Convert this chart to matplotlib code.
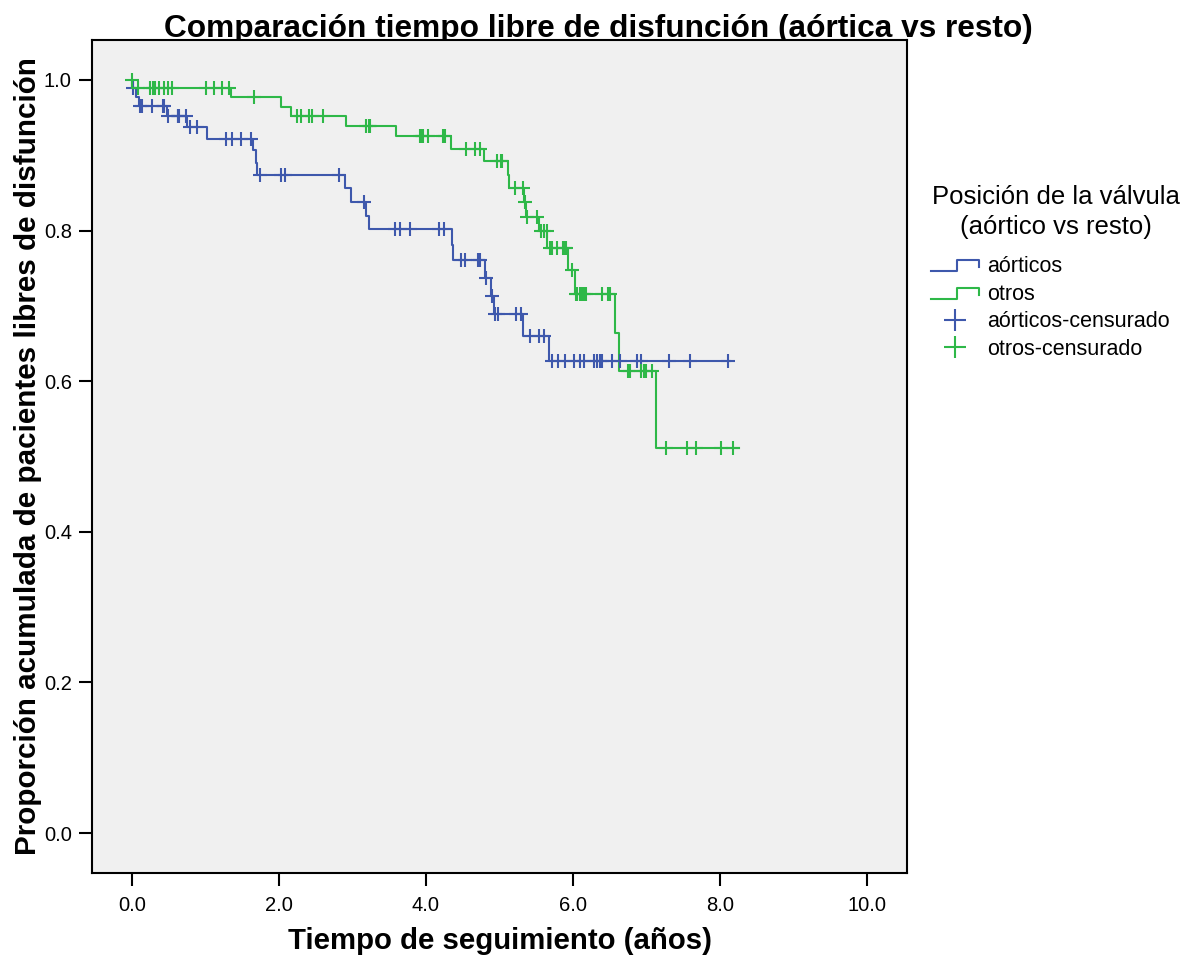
import numpy as np
import matplotlib
matplotlib.use('Agg')
import matplotlib.pyplot as plt
from matplotlib.lines import Line2D
from matplotlib.legend_handler import HandlerBase
from matplotlib.ticker import FormatStrFormatter

plt.rcParams['font.family'] = ['Liberation Sans', 'DejaVu Sans']

# curva de supervivencia: tiempos de evento y proporción tras cada evento
aort_t = [0.0, 0.05, 0.09, 0.47, 0.745, 1.02, 1.65, 1.69, 1.70, 2.90, 2.975, 3.19, 3.23,
          4.36, 4.37, 4.80, 4.88, 4.93, 5.32, 5.67]
aort_s = [0.990, 0.978, 0.966, 0.952, 0.938, 0.922, 0.907, 0.890, 0.874, 0.856, 0.838, 0.820, 0.802,
          0.781, 0.761, 0.737, 0.713, 0.689, 0.660, 0.627]
aort_fin = 8.13
aort_cens = [0.02, 0.11, 0.13, 0.27, 0.42, 0.43, 0.49, 0.62, 0.63, 0.64, 0.73, 0.79, 0.89,
             1.28, 1.36, 1.48, 1.62, 1.74, 2.03, 2.08, 2.82, 3.15, 3.58, 3.65, 3.78, 4.18, 4.24,
             4.47, 4.53, 4.71, 4.73, 4.82, 4.90, 4.94, 4.98, 5.22, 5.29, 5.41, 5.54, 5.61,
             5.72, 5.80, 5.89, 6.01, 6.10, 6.15, 6.28, 6.32, 6.37, 6.40, 6.53, 6.64, 6.87, 6.93,
             7.31, 7.59, 8.11]

otros_t = [0.02, 1.35, 2.03, 2.17, 2.91, 3.59, 4.34, 4.79, 5.12, 5.13, 5.33, 5.36, 5.54, 5.645,
           5.93, 6.03, 6.57, 6.63, 7.13]
otros_s = [0.990, 0.977, 0.964, 0.952, 0.939, 0.925, 0.909, 0.892, 0.874, 0.857, 0.838, 0.818, 0.800,
           0.777, 0.748, 0.716, 0.664, 0.614, 0.5115]
otros_fin = 8.26
otros_cens = [0.0, 0.08, 0.24, 0.29, 0.31, 0.37, 0.43, 0.49, 0.54, 1.01, 1.12, 1.23, 1.32, 1.66,
              2.24, 2.30, 2.41, 2.45, 2.60, 3.19, 3.22, 3.24, 3.92, 3.94, 3.96, 4.03, 4.23, 4.26,
              4.54, 4.66, 4.73, 4.97, 5.02, 5.04, 5.21, 5.32, 5.35, 5.38, 5.51, 5.57, 5.60, 5.64,
              5.69, 5.71, 5.78, 5.87, 5.89, 5.91, 5.98, 6.04, 6.05, 6.09, 6.12, 6.15, 6.18, 6.40,
              6.48, 6.51, 6.75, 6.78, 6.93, 6.97, 6.99, 7.08, 7.27, 7.55, 7.67, 8.01, 8.18]

azul = '#3E58AC'
verde = '#2EB848'


def escalon(t, s, fin):
    x = np.r_[0.0, t, fin]
    y = np.r_[1.0, s, s[-1]]
    return x, y


def valor_en(t, s, tc):
    tt = np.r_[-1.0, t]
    ss = np.r_[1.0, s]
    idx = np.searchsorted(tt, tc, side='right') - 1
    return ss[idx]


class StepHandler(HandlerBase):
    def create_artists(self, legend, orig_handle, xdescent, ydescent, width, height, fontsize, trans):
        x0 = -xdescent
        y0 = -ydescent + height * 0.05
        y1 = -ydescent + height * 0.8
        xs = [x0, x0 + 0.55 * width, x0 + 0.55 * width, x0 + width, x0 + width]
        ys = [y0, y0, y1, y1, y0 + height * 0.25]
        l = Line2D(xs, ys, color=orig_handle.get_color(), lw=1.5)
        l.set_transform(trans)
        return [l]


fig = plt.figure(figsize=(11.96, 9.57), dpi=100)
ax = fig.add_axes([92 / 1196, 1 - 873 / 957, (907 - 92) / 1196, (873 - 40) / 957])
ax.set_facecolor('#F0F0F0')

xa, ya = escalon(aort_t, aort_s, aort_fin)
xo, yo = escalon(otros_t, otros_s, otros_fin)
la, = ax.step(xa, ya, where='post', color=azul, lw=1.5)
lo, = ax.step(xo, yo, where='post', color=verde, lw=1.5)

ca = ax.plot(aort_cens, valor_en(aort_t, aort_s, np.array(aort_cens)), '+', color=azul,
             ms=10, mew=1.5, ls='none')[0]
co = ax.plot(otros_cens, valor_en(otros_t, otros_s, np.array(otros_cens)), '+', color=verde,
             ms=10, mew=1.5, ls='none')[0]

ax.set_xlim(-0.544, 10.544)
ax.set_ylim(-0.0531, 1.0531)
ax.set_xticks(np.arange(0, 10.1, 2))
ax.set_yticks(np.arange(0, 1.01, 0.2))
ax.xaxis.set_major_formatter(FormatStrFormatter('%.1f'))
ax.yaxis.set_major_formatter(FormatStrFormatter('%.1f'))
ax.tick_params(direction='out', length=9.5, width=1.5, labelsize=14.5, pad=5)
ax.tick_params(axis='x', pad=7)
for sp in ax.spines.values():
    sp.set_linewidth(1.5)

ax.set_xlabel('Tiempo de seguimiento (años)', fontsize=21.2, fontweight='bold', labelpad=9)
ax.set_ylabel('Proporción acumulada de pacientes libres de disfunción', fontsize=21.3,
              fontweight='bold', labelpad=1)

fig.text(0.5, 1 - 37 / 957, 'Comparación tiempo libre de disfunción (aórtica vs resto)',
         ha='center', va='baseline', fontsize=22.8, fontweight='bold', zorder=-1)

# título de la leyenda aparte
fig.text(1056 / 1196, 1 - 212 / 957, 'Posición de la válvula\n(aórtico vs resto)',
         ha='center', va='center', multialignment='center', fontsize=18.5, linespacing=1.28)

hs_a = Line2D([], [], color=azul, marker='+', ms=16, mew=1.5, ls='none')
hs_o = Line2D([], [], color=verde, marker='+', ms=16, mew=1.5, ls='none')
leg = fig.legend([la, lo, hs_a, hs_o], ['aórticos', 'otros', 'aórticos-censurado', 'otros-censurado'],
                 handler_map={la: StepHandler(), lo: StepHandler()},
                 loc='upper left', bbox_to_anchor=(931 / 1196, 1 - 256 / 957),
                 frameon=False, fontsize=15.5,
                 handlelength=2.23, handletextpad=0.37, labelspacing=0.31, borderpad=0,
                 borderaxespad=0)

plt.savefig('out.png', dpi=100)
